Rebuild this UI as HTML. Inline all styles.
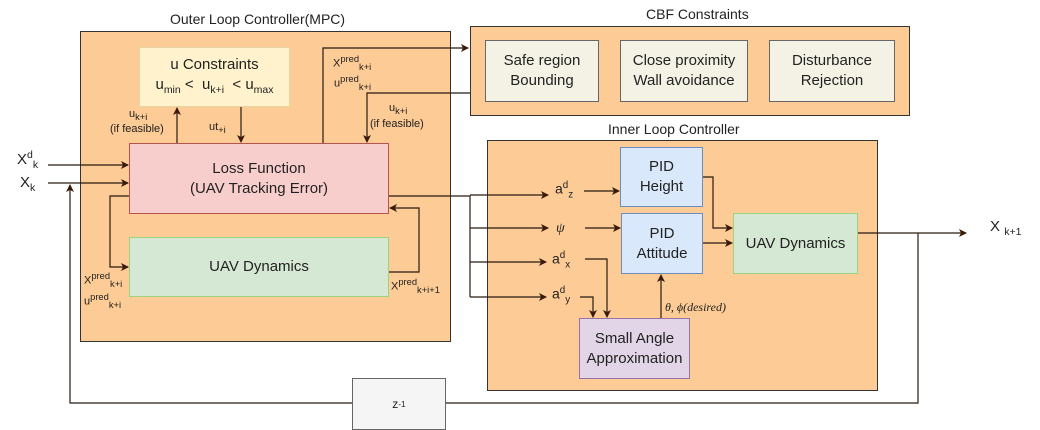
<!DOCTYPE html>
<html><head><style>
body{margin:0;width:1040px;height:429px;background:#fff;position:relative;overflow:hidden;font-family:"Liberation Sans",sans-serif;color:#222}
.b{position:absolute;box-sizing:border-box;border:1px solid #555;display:flex;align-items:center;justify-content:center;text-align:center;font-size:15px;line-height:20px}
.t{position:absolute;font-size:11px;line-height:12px;white-space:nowrap}
sup,sub{font-size:70%}
.t sup,.t sub{font-size:85%}
.h{position:absolute;font-size:14px;white-space:nowrap}
</style></head><body>
<div class="b" style="left:80px;top:31px;width:371px;height:311px;background:#fdcb95;border-color:#333"></div>
<div class="h" style="left:170px;top:11px">Outer Loop Controller(MPC)</div>
<div class="b" style="left:470px;top:26px;width:440px;height:90px;background:#fdcb95;border-color:#333"></div>
<div class="h" style="left:646px;top:6px">CBF Constraints</div>
<div class="b" style="left:487px;top:140px;width:391px;height:251px;background:#fdcb95;border-color:#333"></div>
<div class="h" style="left:608px;top:121px">Inner Loop Controller</div>

<div class="b" style="left:139px;top:47px;width:151px;height:60px;background:#fff2cc;border-color:#e6d59f;flex-direction:column"><div>u Constraints</div><div>u<sub>min</sub> &lt;&nbsp; u<sub>k+i</sub> &nbsp;&lt; u<sub>max</sub></div></div>
<div class="b" style="left:129px;top:143px;width:260px;height:71px;background:#f8cecc;border-color:#b85450;flex-direction:column"><div>Loss Function</div><div>(UAV Tracking Error)</div></div>
<div class="b" style="left:129px;top:237px;width:260px;height:60px;background:#d5e8d4;border-color:#9bd37f">UAV Dynamics</div>

<div class="b" style="left:485px;top:40px;width:114px;height:62px;background:#f3f2e4;border-color:#666;flex-direction:column"><div>Safe region</div><div>Bounding</div></div>
<div class="b" style="left:620px;top:40px;width:128px;height:62px;background:#f3f2e4;border-color:#666;flex-direction:column"><div>Close proximity</div><div>Wall avoidance</div></div>
<div class="b" style="left:769px;top:40px;width:126px;height:62px;background:#f3f2e4;border-color:#666;flex-direction:column"><div>Disturbance</div><div>Rejection</div></div>

<div class="b" style="left:620px;top:147px;width:83px;height:60px;background:#dae8fc;border-color:#6c8ebf;flex-direction:column"><div>PID</div><div>Height</div></div>
<div class="b" style="left:621px;top:213px;width:82px;height:61px;background:#dae8fc;border-color:#6c8ebf;flex-direction:column"><div>PID</div><div>Attitude</div></div>
<div class="b" style="left:733px;top:213px;width:125px;height:61px;background:#d5e8d4;border-color:#9bd37f">UAV Dynamics</div>
<div class="b" style="left:579px;top:318px;width:111px;height:61px;background:#e1d5e7;border-color:#9673a6;flex-direction:column"><div>Small Angle</div><div>Approximation</div></div>
<div class="b" style="left:352px;top:378px;width:94px;height:52px;background:#f5f5f5;border-color:#666;font-size:12px">z<sup>-1</sup></div>

<svg width="1040" height="429" style="position:absolute;left:0;top:0">
<defs><marker id="a" markerWidth="8" markerHeight="8" refX="7" refY="4" orient="auto" markerUnits="userSpaceOnUse"><path d="M0,0L8,4L0,8L2,4z" fill="#3a1a0a"/></marker></defs>
<g stroke="#2a1a10" stroke-width="1.2" fill="none">
<path d="M48 165H128" marker-end="url(#a)"/>
<path d="M48 183H128" marker-end="url(#a)"/>
<path d="M177 143V108" marker-end="url(#a)"/>
<path d="M241 107V142" marker-end="url(#a)"/>
<path d="M323 143V48H468" marker-end="url(#a)"/>
<path d="M470 93H367V142" marker-end="url(#a)"/>
<path d="M129 196H110V267H128" marker-end="url(#a)"/>
<path d="M389 272H419V208H390" marker-end="url(#a)"/>
<path d="M389 196H470V297"/>
<path d="M470 195H548" marker-end="url(#a)"/>
<path d="M470 228H548" marker-end="url(#a)"/>
<path d="M470 262H546" marker-end="url(#a)"/>
<path d="M470 297H546" marker-end="url(#a)"/>
<path d="M584 191H619" marker-end="url(#a)"/>
<path d="M585 228H620" marker-end="url(#a)"/>
<path d="M703 177H713V228H732" marker-end="url(#a)"/>
<path d="M703 243H732" marker-end="url(#a)"/>
<path d="M585 259H607V317" marker-end="url(#a)"/>
<path d="M580 297H593V317" marker-end="url(#a)"/>
<path d="M661 318V275" marker-end="url(#a)"/>
<path d="M858 233H966" marker-end="url(#a)"/>
<path d="M918 233V403H446M352 403H70V185" marker-end="url(#a)"/>
</g></svg>

<div class="h" style="left:17px;top:149px;font-size:15px">X<sup>d</sup><sub>k</sub></div>
<div class="h" style="left:20px;top:174px;font-size:15px">X<sub>k</sub></div>
<div class="h" style="left:990px;top:218px;font-size:15px">X <sub>k+1</sub></div>
<div class="t" style="left:129px;top:108px">u<sub>k+i</sub></div>
<div class="t" style="left:110px;top:123px">(if feasible)</div>
<div class="t" style="left:209px;top:121px">ut<sub>+i</sub></div>
<div class="t" style="left:333px;top:53px">X<sup>pred</sup><sub>k+i</sub></div>
<div class="t" style="left:334px;top:73px">u<sup>pred</sup><sub>k+i</sub></div>
<div class="t" style="left:389px;top:102px">u<sub>k+i</sub></div>
<div class="t" style="left:370px;top:118px">(if feasible)</div>
<div class="t" style="left:84px;top:270px">X<sup>pred</sup><sub>k+i</sub></div>
<div class="t" style="left:84px;top:291px">u<sup>pred</sup><sub>k+i</sub></div>
<div class="t" style="left:391px;top:276px">X<sup>pred</sup><sub>k+i+1</sub></div>
<div class="h" style="left:555px;top:180px">a<sup>d</sup><sub>z</sub></div>
<div class="h" style="left:556px;top:221px;font-family:'Liberation Serif',serif;font-style:italic">ψ</div>
<div class="h" style="left:552px;top:250px">a<sup>d</sup><sub>x</sub></div>
<div class="h" style="left:552px;top:285px">a<sup>d</sup><sub>y</sub></div>
<div class="t" style="left:665px;top:301px;font-family:'Liberation Serif',serif;font-style:italic;font-size:12px">θ, ϕ(desired)</div>
</body></html>
